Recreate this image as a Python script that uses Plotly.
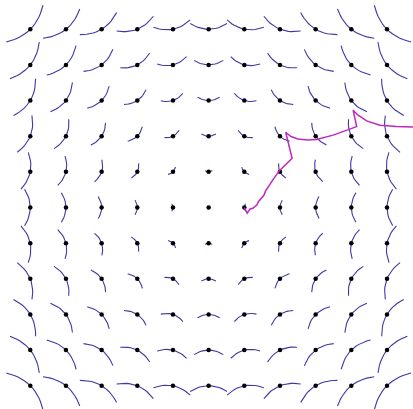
import numpy as np
import plotly.graph_objects as go

# grid of sample points (data units)
grid_x = [-5, -4, -3, -2, -1, 0, 1, 2, 3, 4, 5]
grid_y = [-5, -4, -3, -2, -1, 0, 1, 2, 3, 4, 5]

# trajectory
traj_x = [1.00, 1.08, 1.16, 1.24, 1.35, 1.40, 1.55, 1.59, 1.79, 1.99, 2.34, 2.27, 2.21, 2.16,
          2.31, 2.50, 2.78, 3.03, 3.49, 3.96, 4.15, 4.05, 4.19, 4.43, 4.80, 5.27, 5.73, 6.20]
traj_y = [0.00, -0.16, -0.04, -0.02, 0.07, 0.17, 0.34, 0.45, 0.76, 1.04, 1.38, 1.70, 1.95, 2.11,
          1.99, 1.92, 1.89, 1.91, 2.03, 2.19, 2.27, 2.73, 2.59, 2.43, 2.31, 2.27, 2.25, 2.24]

HALF = 0.103   # half parameter span of each glyph
BEND = 3.0     # outward bend of each glyph

arc_x, arc_y = [], []
s = np.linspace(-HALF, HALF, 15)
for gx in grid_x:
    for gy in grid_y:
        if gx == 0 and gy == 0:
            continue
        px = gx + s * (-gy) + BEND * s**2 * gx
        py = gy + s * (gx) + BEND * s**2 * gy
        arc_x += list(px) + [None]
        arc_y += list(py) + [None]

dot_x = [gx for gx in grid_x for gy in grid_y]
dot_y = [gy for gx in grid_x for gy in grid_y]

fig = go.Figure()
fig.add_trace(go.Scatter(x=arc_x, y=arc_y, mode="lines",
                         line=dict(color="rgb(62,56,168)", width=1.1),
                         hoverinfo="skip"))
fig.add_trace(go.Scatter(x=dot_x, y=dot_y, mode="markers",
                         marker=dict(color="black", size=4.5)))
fig.add_trace(go.Scatter(x=traj_x, y=traj_y, mode="lines",
                         line=dict(color="rgb(190,40,190)", width=1.5)))

fig.update_layout(width=413, height=409, margin=dict(l=0, r=0, t=0, b=0),
                  paper_bgcolor="white", plot_bgcolor="white", showlegend=False)
fig.update_xaxes(range=[-5.849, 5.729], visible=False)
fig.update_yaxes(range=[-5.653, 5.821], visible=False)
fig.write_html("out.html", config={"displayModeBar": False},
               post_script="document.body.style.margin='0px';")
